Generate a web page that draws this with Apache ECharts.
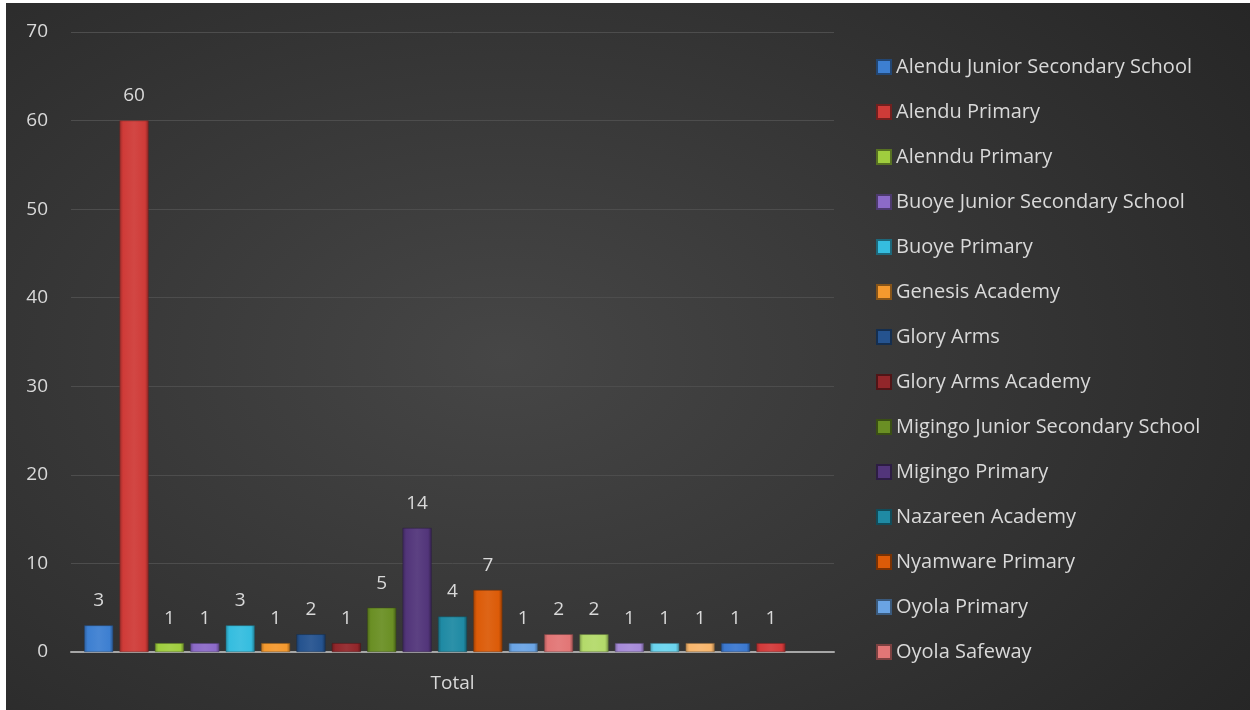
<!DOCTYPE html>
<html>
<head>
<meta charset="utf-8">
<script src="https://cdn.jsdelivr.net/npm/echarts@6/dist/echarts.min.js"></script>
<style>
  html, body { margin: 0; padding: 0; background: #ffffff; width: 1250px; height: 710px; overflow: hidden; }
  #chart {
    position: absolute; left: 6px; top: 3px; width: 1244px; height: 707px;
    background: radial-gradient(ellipse 75% 85% at 40% 50%, #464646 0%, #363636 50%, #262626 100%);
  }
</style>
</head>
<body>
<div id="chart"></div>
<script>
// ---- data ----
const categories = ['Total'];
const seriesNames = [
  'Alendu Junior Secondary School',
  'Alendu Primary',
  'Alenndu Primary',
  'Buoye Junior Secondary School',
  'Buoye Primary',
  'Genesis Academy',
  'Glory Arms',
  'Glory Arms Academy',
  'Migingo Junior Secondary School',
  'Migingo Primary',
  'Nazareen Academy',
  'Nyamware Primary',
  'Oyola Primary',
  'Oyola Safeway',
  'Series 15',
  'Series 16',
  'Series 17',
  'Series 18',
  'Series 19',
  'Series 20',
  '(blank)'
];
const seriesValues = [3, 60, 1, 1, 3, 1, 2, 1, 5, 14, 4, 7, 1, 2, 2, 1, 1, 1, 1, 1, null];
const legendNames = seriesNames.slice(0, 14);
const yTicks = [0, 10, 20, 30, 40, 50, 60, 70];

const colors = [
  '#3d7fd1', '#cf3b38', '#9fcd3e', '#8c6ac8', '#35bddf', '#f4992e',
  '#25538f', '#92262a', '#6a8f24', '#52357a', '#1f8aa4', '#dc5b08',
  '#6aa4e4', '#e27676', '#b3da6a', '#a68ad8', '#6ad4ee', '#f8b66c',
  '#3b78cf', '#d33a3a', '#888888'
];

function shade(hex, f) {
  const n = parseInt(hex.slice(1), 16);
  let r = (n >> 16) & 255, g = (n >> 8) & 255, b = n & 255;
  if (f < 0) { r = Math.round(r * (1 + f)); g = Math.round(g * (1 + f)); b = Math.round(b * (1 + f)); }
  else { r = Math.round(r + (255 - r) * f); g = Math.round(g + (255 - g) * f); b = Math.round(b + (255 - b) * f); }
  return 'rgb(' + r + ',' + g + ',' + b + ')';
}

const chart = echarts.init(document.getElementById('chart'), null, { renderer: 'canvas' });
const textColor = '#d9d9d9';
const fontFamily = '"Open Sans", Lato, sans-serif';

const series = seriesNames.map((name, i) => ({
  name: name,
  type: 'bar',
  data: [seriesValues[i]],
  barWidth: 29,
  barGap: '22%',
  itemStyle: {
    color: new echarts.graphic.LinearGradient(0, 0, 1, 0, [
      { offset: 0, color: shade(colors[i], -0.25) },
      { offset: 0.12, color: colors[i] },
      { offset: 0.5, color: shade(colors[i], 0.06) },
      { offset: 0.88, color: colors[i] },
      { offset: 1, color: shade(colors[i], -0.35) }
    ]),
    borderColor: shade(colors[i], -0.45),
    borderWidth: 0.5
  },
  label: {
    show: seriesValues[i] !== null,
    position: 'top',
    distance: 15,
    color: textColor,
    fontSize: 19,
    fontFamily: fontFamily
  }
}));

chart.setOption({
  backgroundColor: 'transparent',
  animation: false,
  color: colors,
  grid: { left: 65, right: 416, top: 29, bottom: 58, containLabel: false },
  legend: {
    data: legendNames.map((n, i) => ({ name: n, icon: 'rect', itemStyle: { color: colors[i] } })),
    orient: 'vertical',
    left: 870,
    top: 54,
    padding: 0,
    itemWidth: 14,
    itemHeight: 14,
    itemGap: 25,
    textStyle: { color: textColor, fontSize: 20, fontFamily: fontFamily, lineHeight: 20, padding: [0, 0, 0, 0] },
    selectedMode: false
  },
  xAxis: {
    type: 'category',
    data: categories,
    axisLine: { show: true, lineStyle: { color: '#a6a6a6', width: 2 } },
    axisTick: { show: false },
    axisLabel: { color: textColor, fontSize: 19, fontFamily: fontFamily, margin: 22 }
  },
  yAxis: {
    type: 'value',
    min: yTicks[0],
    max: yTicks[yTicks.length - 1],
    interval: 10,
    axisLine: { show: false },
    axisTick: { show: false },
    axisLabel: { color: textColor, fontSize: 19, fontFamily: fontFamily, margin: 23 },
    splitLine: { lineStyle: { color: '#4d4d4d', width: 1 } }
  },
  series: series
});
</script>
</body>
</html>
